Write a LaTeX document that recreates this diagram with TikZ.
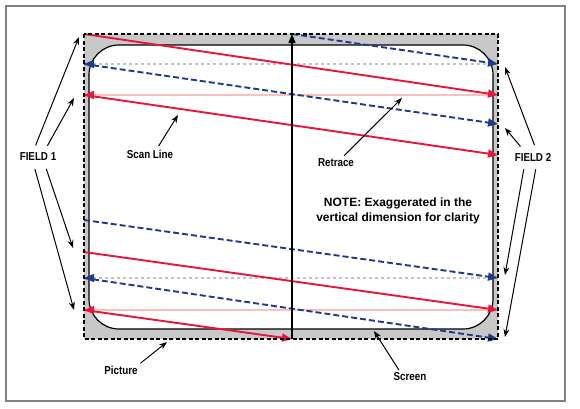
\documentclass[tikz,border=0pt]{standalone}
\usepackage{fontspec}
\setmainfont{Liberation Sans}
\newfontfamily\narrowsans{Liberation Sans}[FakeStretch=0.85]
\usetikzlibrary{arrows.meta,positioning,calc}

\definecolor{scanred}{RGB}{232,22,58}
\definecolor{scanblue}{RGB}{30,58,140}
\definecolor{retpink}{RGB}{250,192,192}
\definecolor{retgray}{RGB}{195,195,195}
\definecolor{picgray}{RGB}{200,200,200}
\definecolor{framegray}{RGB}{128,128,128}

\tikzset{
  lbl/.style={font=\narrowsans\bfseries\fontsize{11.5}{13}\selectfont, inner sep=1pt},
  lblarrow/.style={black, line width=1pt, -{Stealth[length=8pt,width=6pt]}},
  redscan/.style={scanred, line width=1.9pt, -{Triangle[length=10pt,width=8pt]}},
  bluescan/.style={scanblue, line width=1.9pt, dash pattern=on 6pt off 3pt,
    -{Triangle[length=10pt,width=8pt]}},
  pinkret/.style={retpink, line width=1.4pt, -{Triangle[length=10pt,width=8pt,color=scanred]}},
  grayret/.style={retgray, line width=1.4pt, dash pattern=on 3pt off 3pt,
    -{Triangle[length=10pt,width=8pt,color=scanblue]}}
}

\begin{document}
\begin{tikzpicture}[x=1pt,y=-1pt]
  \useasboundingbox (0,0) rectangle (580,408);
  \draw[framegray, line width=2pt, fill=white] (6,6) rectangle (565,401);

  % picture area and screen
  \fill[picgray] (84,34) rectangle (498,339);
  \draw[black, line width=1.2pt, fill=white, rounded corners=30pt] (89,45) rectangle (493,329);

  % scan end points
  \coordinate (tl) at (84,34);
  \coordinate (tm) at (292,34);
  \coordinate (bm) at (292,339);
  \coordinate (l1) at (84,64);   \coordinate (r1) at (498,64);
  \coordinate (l2) at (84,95);   \coordinate (r2) at (498,95);
  \coordinate (r3) at (498,124);
  \coordinate (r4) at (498,155);
  \coordinate (l5) at (84,220);
  \coordinate (l6) at (84,252);
  \coordinate (l7) at (84,278);  \coordinate (r7) at (498,278);
  \coordinate (l8) at (84,310);  \coordinate (r8) at (498,310);
  \coordinate (r9) at (498,339);

  % retraces
  \draw[grayret] (r1) -- (l1);
  \draw[pinkret] (r2) -- (l2);
  \draw[grayret] (r7) -- (l7);
  \draw[pinkret] (r8) -- (l8);

  % field 1
  \draw[redscan] (tl) -- (r2);
  \draw[redscan] (l2) -- (r4);
  \draw[redscan] (l6) -- (r8);
  \draw[redscan] (l8) -- (bm);

  % field 2
  \draw[bluescan] (tm) -- (r1);
  \draw[bluescan] (l1) -- (r3);
  \draw[bluescan] (l5) -- (r7);
  \draw[bluescan] (l7) -- (r9);

  % vertical retrace
  \draw[black, line width=1.3pt, -{Triangle[length=9pt,width=7pt]}] (bm) -- (tm);

  % picture border
  \draw[black, line width=2.4pt, dash pattern=on 4pt off 2.5pt] (84,34) rectangle (498,339);

  % labels
  \node[lbl] (f1) at (38,157) {FIELD 1};
  \node[lbl] (f2) at (533,157) {FIELD 2};
  \node[lbl] (scan) at (150,154) {Scan Line};
  \node[lbl] (ret) at (336,163) {Retrace};
  \node[lbl] (pic) at (121,370) {Picture};
  \node[lbl] (scr) at (410,377) {Screen};
  \node[font=\bfseries\fontsize{12}{15}\selectfont, align=center] (note) at (398,211)
    {NOTE: Exaggerated in the\\vertical dimension for clarity};

  \coordinate (f1a) at (79,37);
  \coordinate (f1b) at (74,98);
  \coordinate (f1c) at (73,248);
  \coordinate (f1d) at (74,310);
  \coordinate (f2a) at (505,67);
  \coordinate (f2b) at (505,128);
  \coordinate (f2c) at (505,275);
  \coordinate (f2d) at (505,337);

  \draw[lblarrow, shorten <=7pt] ([xshift=-5pt]f1.north) -- (f1a);
  \draw[lblarrow, shorten <=7pt] ([xshift=6pt]f1.north) -- (f1b);
  \draw[lblarrow, shorten <=7pt] ([xshift=6pt]f1.south) -- (f1c);
  \draw[lblarrow, shorten <=7pt] ([xshift=-5pt]f1.south) -- (f1d);
  \draw[lblarrow, shorten <=7pt] ([xshift=4pt]f2.north) -- (f2a);
  \draw[lblarrow, shorten <=7pt] ([xshift=-8pt]f2.north) -- (f2b);
  \draw[lblarrow, shorten <=7pt] ([xshift=-8pt]f2.south) -- (f2c);
  \draw[lblarrow, shorten <=7pt] ([xshift=4pt]f2.south) -- (f2d);

  \draw[lblarrow, shorten <=3pt] ([xshift=7pt]scan.north) -- (178,115);
  \draw[lblarrow, shorten <=3pt] ([xshift=6pt]ret.north) -- (402,98);
  \draw[lblarrow, shorten <=2pt] (pic.north east) -- (167,342);
  \draw[lblarrow, shorten <=2pt] ([xshift=-10pt]scr.north) -- (374,331);
\end{tikzpicture}
\end{document}
